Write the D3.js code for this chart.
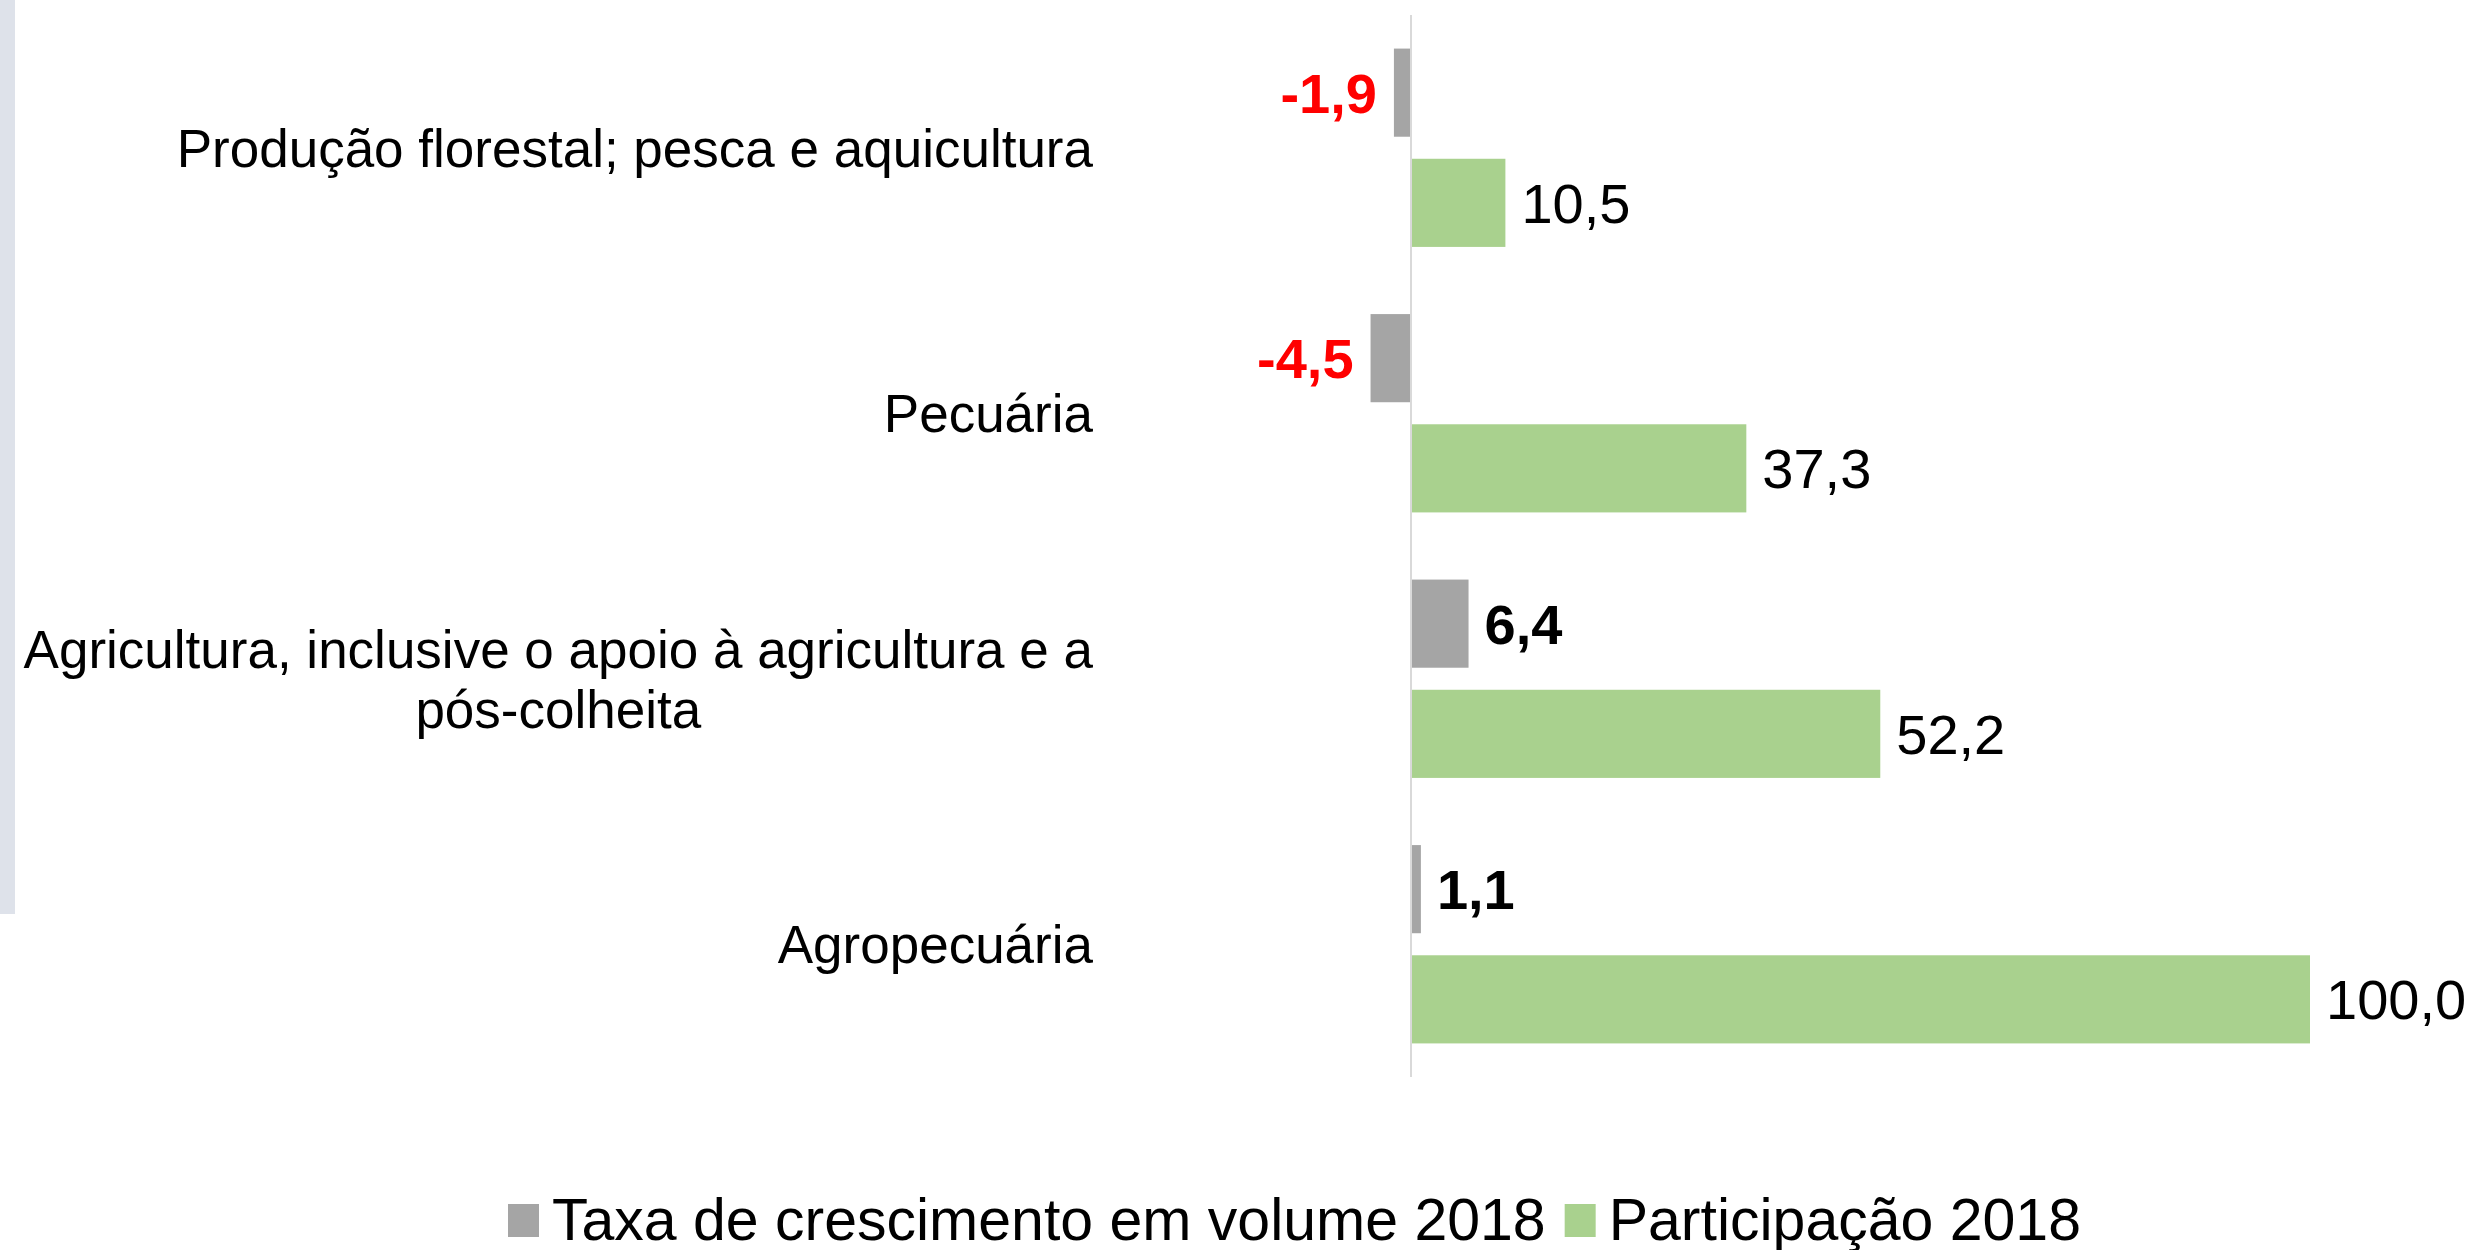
<!DOCTYPE html>
<html>
<head>
<meta charset="utf-8">
<script src="https://cdn.jsdelivr.net/npm/d3@7"></script>
<style>
  html, body { margin: 0; padding: 0; background: #fff; }
  svg { display: block; font-family: "Liberation Sans", Arial, sans-serif; }
</style>
</head>
<body>
<svg id="chart" width="2481" height="1250"></svg>
<script>
const categories = [
    ['Produção florestal; pesca e aquicultura'],
    ['Pecuária'],
    ['Agricultura, inclusive o apoio à agricultura e a', 'pós-colheita'],
    ['Agropecuária']
];
const taxa = [-1.9, -4.5, 6.4, 1.1];
const participacao = [10.5, 37.3, 52.2, 100.0];
const seriesNames = ['Taxa de crescimento em volume 2018', 'Participação 2018'];
const seriesColors = ['#A5A5A5', '#A9D18E'];

const svg = d3.select('#chart');
const width = 2481;
const height = 1250;

// faint stripe on the left edge
svg.append('rect')
    .attr('x', 0).attr('y', 0)
    .attr('width', 15).attr('height', 914)
    .attr('fill', '#DEE2EA');

// comma decimals, plain hyphen for negatives
const fmt = (v) => d3.format('.1f')(v).replace('.', ',').replace('\u2212', '-');

const x = d3.scaleLinear()
    .domain([0, 100])
    .range([1411, 2310]);

const y = d3.scaleBand()
    .domain(d3.range(categories.length))
    .range([15, 1077])
    .paddingInner(0.253)
    .paddingOuter(0.1265);

const ySub = d3.scaleBand()
    .domain([0, 1])
    .range([0, y.bandwidth()])
    .paddingInner(0.2);

const rows = categories.map((c, i) => ({ i, label: c, values: [taxa[i], participacao[i]] }));

// bars
const groups = svg.selectAll('g.group')
    .data(rows)
    .join('g')
    .attr('class', 'group')
    .attr('transform', (d) => `translate(0,${y(d.i)})`);

groups.selectAll('rect')
    .data((d) => d.values.map((v, s) => ({ v, s })))
    .join('rect')
    .attr('x', (d) => x(Math.min(0, d.v)))
    .attr('y', (d) => ySub(d.s))
    .attr('width', (d) => Math.abs(x(d.v) - x(0)))
    .attr('height', ySub.bandwidth())
    .attr('fill', (d) => seriesColors[d.s]);

// value labels
groups.selectAll('text.value')
    .data((d) => d.values.map((v, s) => ({ v, s })))
    .join('text')
    .attr('class', 'value')
    .attr('x', (d) => d.v < 0 ? x(d.v) - 17 : x(d.v) + 16)
    .attr('y', (d) => ySub(d.s) + ySub.bandwidth() / 2)
    .attr('dy', '0.36em')
    .attr('text-anchor', (d) => d.v < 0 ? 'end' : 'start')
    .attr('font-size', 56)
    .attr('font-weight', (d) => d.s === 0 ? 'bold' : 'normal')
    .attr('fill', (d) => d.v < 0 ? '#FF0000' : '#000')
    .text((d) => fmt(d.v));

// zero axis line
svg.append('line')
    .attr('x1', x(0)).attr('x2', x(0))
    .attr('y1', 15).attr('y2', 1077)
    .attr('stroke', '#D9D9D9')
    .attr('stroke-width', 2);

// category labels: block right-aligned, lines centred within the block
const lineH = 60;
const labelRight = 1093;
svg.selectAll('text.cat')
    .data(rows)
    .join('text')
    .attr('class', 'cat')
    .attr('font-size', 53)
    .attr('fill', '#000')
    .each(function (d) {
        const t = d3.select(this);
        const cy = y(d.i) + y.bandwidth() / 2;
        const n = d.label.length;
        const spans = d.label.map((line, k) => t.append('tspan')
            .attr('y', cy + (k - (n - 1) / 2) * lineH)
            .attr('dy', '0.36em')
            .text(line));
        const maxW = d3.max(spans, (s) => s.node().getComputedTextLength());
        spans.forEach((s) => s
            .attr('text-anchor', 'middle')
            .attr('x', labelRight - maxW / 2));
    });

// legend
const legend = svg.append('g').attr('transform', 'translate(508,1219)');
let lx = 0;
seriesNames.forEach((name, s) => {
    legend.append('rect')
        .attr('x', lx).attr('y', -15)
        .attr('width', 31).attr('height', 33)
        .attr('fill', seriesColors[s]);
    const t = legend.append('text')
        .attr('x', lx + 44)
        .attr('y', 0)
        .attr('dy', '0.36em')
        .attr('font-size', 59)
        .attr('fill', '#000')
        .text(name);
    lx += 44 + t.node().getComputedTextLength() + 19;
});
</script>
</body>
</html>
